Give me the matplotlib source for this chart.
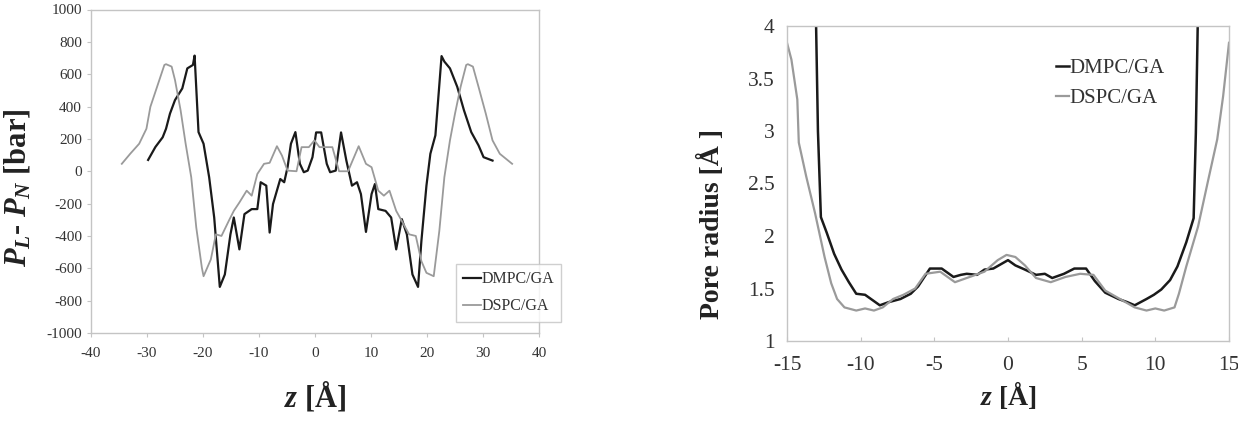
import numpy as np
import matplotlib
matplotlib.use("Agg")
import matplotlib.pyplot as plt

plt.rcParams['font.family'] = ['Liberation Serif', 'DejaVu Serif']
plt.rcParams['mathtext.fontset'] = 'custom'
plt.rcParams['mathtext.it'] = 'Liberation Serif:bold:italic'
plt.rcParams['mathtext.rm'] = 'Liberation Serif:bold'
plt.rcParams['mathtext.bf'] = 'Liberation Serif:bold'
plt.rcParams['axes.unicode_minus'] = False

# lateral pressure profile, P_L - P_N [bar] vs z [A]
z_dmpc_p = [-29.8, -28.5, -27.2, -26.6, -25.9, -25.0, -23.7, -22.8, -21.8, -21.5,
            -20.8, -19.9, -18.9, -18.0, -17.0, -16.1, -15.1, -14.5, -13.5, -12.6,
            -11.3, -10.3, -9.7, -8.7, -8.1, -7.5, -6.2, -5.5, -4.9, -4.3,
            -3.5, -2.7, -2.0, -1.3, -0.45, 0.2, 1.1, 2.1, 2.7, 3.7,
            4.65, 5.6, 6.6, 7.5, 8.2, 9.1, 10.1, 10.7, 11.3, 12.6,
            13.6, 14.5, 15.5, 16.4, 17.4, 18.4, 19.0, 19.9, 20.6, 21.5,
            22.6, 23.1, 24.1, 25.4, 26.6, 27.9, 29.2, 30.1, 31.7]
p_dmpc = [70, 150, 210, 263, 356, 440, 512, 636, 657, 715,
          242, 170, -37, -286, -715, -638, -390, -286, -483, -265,
          -234, -234, -68, -89, -379, -203, -48, -68, 25, 170,
          242, 46, -6, 4, 87, 240, 240, 46, -6, 4,
          240, 66, -89, -68, -141, -375, -141, -79, -234, -245,
          -286, -483, -296, -390, -638, -715, -431, -89, 108, 222,
          712, 678, 636, 522, 377, 242, 160, 87, 66]

z_dspc_p = [-34.5, -33.0, -31.4, -30.1, -29.4, -28.2, -26.9, -26.6, -25.6, -25.0,
            -24.0, -23.1, -22.1, -21.2, -20.2, -19.9, -18.6, -17.7, -16.7, -15.4,
            -14.5, -13.5, -12.2, -11.3, -10.3, -9.1, -8.1, -6.8, -5.9, -4.9,
            -3.3, -2.4, -1.1, -0.1, 0.8, 3.1, 4.3, 5.9, 7.8, 9.1,
            10.1, 11.3, 12.3, 13.3, 14.5, 15.5, 16.8, 18.0, 19.0, 19.9,
            21.2, 22.2, 23.1, 24.1, 25.0, 26.0, 27.0, 27.3, 28.2, 29.2,
            30.5, 31.7, 33.0, 35.2]
p_dspc = [46, 108, 170, 263, 398, 522, 657, 662, 647, 564,
          377, 170, -37, -348, -597, -649, -545, -390, -400, -307,
          -245, -193, -120, -151, -17, 46, 52, 155, 97, 4,
          0, 149, 149, 191, 149, 149, 0, 0, 155, 46,
          25, -120, -151, -120, -245, -307, -390, -400, -556, -628,
          -649, -369, -37, 191, 356, 522, 657, 662, 647, 522,
          356, 191, 108, 46]

# pore radius [A] vs z [A]
z_dmpc_r = [-13.1, -12.9, -12.7, -12.3, -11.8, -11.3, -10.8, -10.3, -9.7, -9.2,
            -8.7, -8.1, -7.3, -6.6, -6.1, -5.3, -4.5, -3.7, -3.2, -2.8,
            -2.1, -1.6, -1.0, 0.0, 0.5, 1.15, 1.9, 2.5, 3.0, 3.8,
            4.5, 5.3, 5.9, 6.6, 7.5, 8.1, 8.6, 9.4, 9.9, 10.4,
            11.0, 11.5, 12.1, 12.6, 12.75, 12.95]
r_dmpc = [4.6, 3.0, 2.18, 2.03, 1.83, 1.68, 1.56, 1.45, 1.44, 1.39,
          1.34, 1.37, 1.40, 1.45, 1.52, 1.69, 1.69, 1.61, 1.63, 1.64,
          1.63, 1.68, 1.69, 1.77, 1.72, 1.68, 1.63, 1.64, 1.60, 1.64,
          1.69, 1.69, 1.57, 1.46, 1.40, 1.37, 1.34, 1.40, 1.44, 1.49,
          1.58, 1.71, 1.94, 2.17, 2.98, 4.6]

z_dspc_r = [-15.0, -14.7, -14.3, -14.2, -13.7, -13.1, -12.45, -12.0, -11.6, -11.1,
            -10.3, -9.7, -9.1, -8.5, -7.8, -7.1, -6.3, -5.6, -4.6, -3.6,
            -2.6, -1.6, -0.7, -0.1, 0.5, 1.15, 1.9, 2.9, 3.9, 4.9,
            5.8, 6.6, 7.6, 8.6, 9.4, 10.0, 10.6, 11.3, 11.6, 12.1,
            12.9, 13.6, 14.2, 14.6, 15.0]
r_dspc = [3.84, 3.68, 3.30, 2.89, 2.57, 2.22, 1.80, 1.55, 1.40, 1.32,
          1.29, 1.31, 1.29, 1.32, 1.40, 1.44, 1.50, 1.64, 1.66, 1.56,
          1.61, 1.66, 1.77, 1.82, 1.80, 1.72, 1.60, 1.56, 1.61, 1.64,
          1.63, 1.48, 1.40, 1.32, 1.29, 1.31, 1.29, 1.32, 1.45, 1.71,
          2.09, 2.54, 2.92, 3.33, 3.84]

W, H = 1238, 426
fig = plt.figure(figsize=(W / 100, H / 100), dpi=100)
dark = '#1a1a1a'
grey = '#9a9a9a'
frame = '#c4c4c4'


def style_axes(ax, size, tdir):
    for s in ax.spines.values():
        s.set_color(frame)
        s.set_linewidth(1.0)
    ax.tick_params(colors=frame, labelcolor='#333333', labelsize=size,
                   length=3, width=0.8, direction=tdir)


# left panel
ax1 = fig.add_axes([91 / W, 1 - 333 / H, (539 - 91) / W, (333 - 9.5) / H])
ax1.plot(z_dmpc_p, p_dmpc, color=dark, lw=1.6, label='DMPC/GA')
ax1.plot(z_dspc_p, p_dspc, color=grey, lw=1.3, label='DSPC/GA')
ax1.set_xlim(-40, 40)
ax1.set_ylim(-1000, 1000)
ax1.set_xticks(np.arange(-40, 41, 10))
ax1.set_yticks(np.arange(-1000, 1001, 200))
style_axes(ax1, 11, 'out')
ax1.tick_params(axis='x', pad=7)
ax1.set_ylabel(r'$P_L$- $P_N$ [bar]', fontsize=22, fontweight='bold', color='#222222')
ax1.yaxis.set_label_coords(-0.13, 0.45)
ax1.set_xlabel(r'$z$ [Å]', fontsize=22, fontweight='bold', color='#222222', labelpad=14)
leg1 = ax1.legend(loc='upper left', bbox_to_anchor=((456 - 91) / (539 - 91), (333 - 264) / (333 - 9.5)),
                  fontsize=11.5, handlelength=1.1, handletextpad=0.05, frameon=True,
                  fancybox=False, borderpad=0.45, labelspacing=0.7, borderaxespad=0)
leg1.get_frame().set_edgecolor(frame)
leg1.get_frame().set_linewidth(1.0)
for t in leg1.get_texts():
    t.set_color('#333333')

# right panel
ax2 = fig.add_axes([787 / W, 1 - 341 / H, (1229 - 787) / W, (341 - 26) / H])
ax2.plot(z_dmpc_r, r_dmpc, color=dark, lw=1.8, label='DMPC/GA')
ax2.plot(z_dspc_r, r_dspc, color=grey, lw=1.6, label='DSPC/GA')
ax2.set_xlim(-15, 15)
ax2.set_ylim(1, 4)
ax2.set_xticks(np.arange(-15, 16, 5))
ax2.set_yticks([1, 1.5, 2, 2.5, 3, 3.5, 4])
ax2.set_yticklabels(['1', '1.5', '2', '2.5', '3', '3.5', '4'])
style_axes(ax2, 15.5, 'in')
ax2.tick_params(axis='y', length=0, pad=9)
ax2.tick_params(axis='x', pad=11)
ax2.set_ylabel('Pore radius [Å ]', fontsize=20, fontweight='bold', color='#222222')
ax2.yaxis.set_label_coords(-0.14, 0.37)
ax2.set_xlabel(r'$z$ [Å]', fontsize=20, fontweight='bold', color='#222222', labelpad=3)
leg2 = ax2.legend(loc='upper left', bbox_to_anchor=((1048 - 787) / (1229 - 787), (341 - 50) / (341 - 26)),
                  fontsize=15, handlelength=0.6, handletextpad=0.05, frameon=False,
                  borderaxespad=0, labelspacing=0.5)
for t in leg2.get_texts():
    t.set_color('#333333')

fig.savefig('out.png', dpi=100)
